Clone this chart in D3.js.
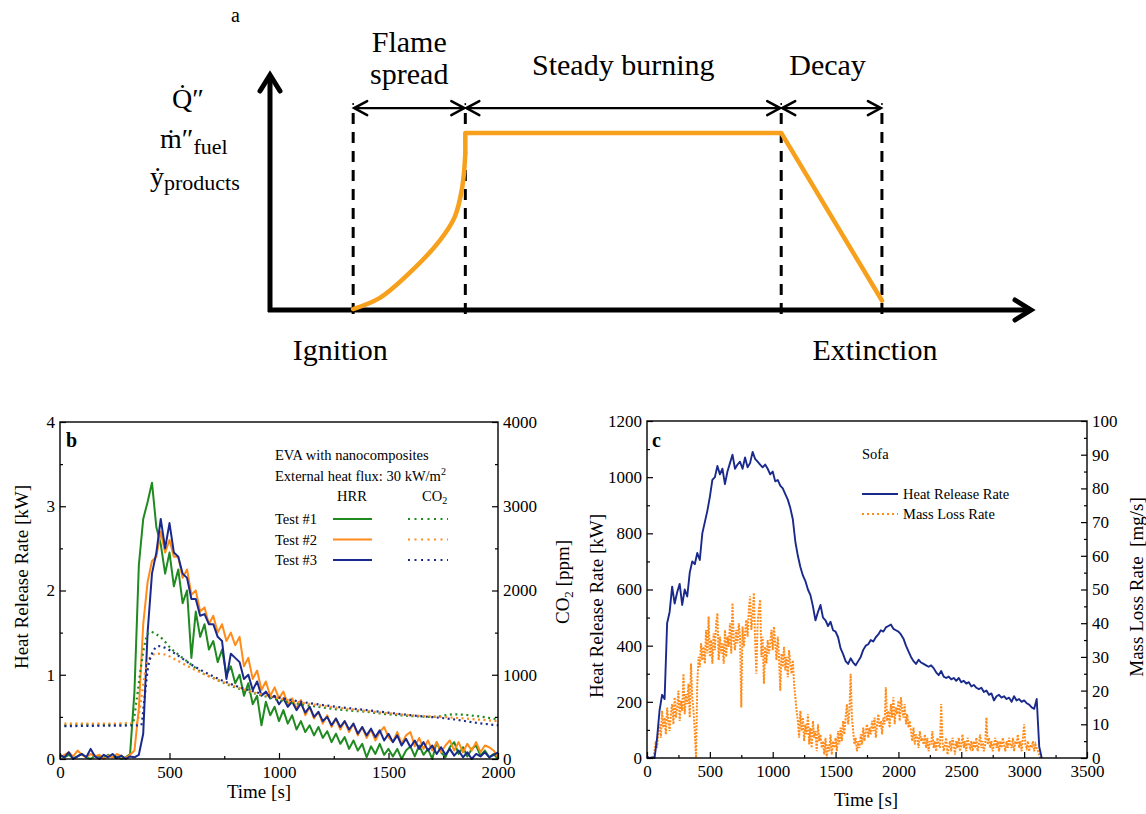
<!DOCTYPE html>
<html>
<head>
<meta charset="utf-8">
<title>Fire development stages</title>
<script src="https://cdn.jsdelivr.net/npm/d3@7"></script>
<style>
  body { margin: 0; background: #fff; }
  svg { display: block; font-family: "Liberation Serif", "Times New Roman", serif; }
  text { font-family: "Liberation Serif", "Times New Roman", serif; fill: #000; }
</style>
</head>
<body>
<svg id="chart" width="1146" height="814"></svg>
<script>
// ---------------- data ----------------
// panel a: idealised fire curve (arbitrary units, x 0-100, y 0-1)
const phaseX = [10.9, 25.6, 67.0, 80.2];
const growthX = [10.9, 14.4, 18.7, 22.3, 24.2, 25.2, 25.6];
const growthY = [0.004, 0.051, 0.169, 0.295, 0.392, 0.519, 0.662];
const plateauX = [25.6, 25.6, 67.0, 80.2];
const plateauY = [0.662, 0.747, 0.747, 0.04];

// panel b: cone calorimeter, EVA with nanocomposites (sampled every 20 s)
const stepB = 20;
const hrrTest1 = [0.04,0.02,0.05,0.01,0.03,0.06,0.02,0.00,0.04,0.03,0.01,0.05,0.02,0.03,0.00,0.02,0.06,
  0.8,2.3,2.85,3.05,3.28,2.75,2.55,2.2,2.45,2.05,
  2.25,1.85,2.0,1.2,1.75,1.45,1.6,1.3,1.4,1.15,
  1.3,1.0,1.1,0.9,1.0,0.75,0.9,0.65,0.75,0.4,
  0.68,0.52,0.62,0.45,0.58,0.42,0.52,0.35,0.45,0.32,
  0.4,0.28,0.38,0.25,0.33,0.2,0.3,0.18,0.26,0.12,
  0.22,0.1,0.18,0.02,0.15,0.06,0.18,0.05,0.12,0.03,
  0.12,0.0,0.1,0.15,0.03,0.16,0.05,0.12,0.0,0.2,
  0.08,0.02,0.14,0.2,0.06,0.14,0.03,0.12,0.16,0.04,
  0.1,0.02,0.06,0.0];
const hrrTest2 = [0.02,0.05,0.08,0.03,0.10,0.05,0.02,0.06,0.03,0.05,0.00,0.04,0.02,0.06,0.03,0.01,0.05,0.10,
  0.6,1.6,2.1,2.35,2.4,2.7,2.45,2.6,2.4,2.4,
  2.15,2.25,1.95,2.0,1.75,1.8,1.6,1.7,1.5,1.6,
  1.4,1.5,1.35,1.45,1.1,1.2,0.95,1.05,0.82,0.92,
  0.75,0.85,0.72,0.8,0.65,0.72,0.6,0.7,0.52,0.62,
  0.48,0.56,0.42,0.52,0.38,0.48,0.35,0.45,0.32,0.42,
  0.28,0.38,0.25,0.35,0.22,0.32,0.38,0.26,0.2,0.32,
  0.18,0.28,0.32,0.15,0.25,0.12,0.22,0.1,0.2,0.08,
  0.16,0.22,0.1,0.2,0.08,0.18,0.1,0.2,0.08,0.16,
  0.14,0.1,0.02];
const hrrTest3 = [0.05,0.02,0.08,0.00,0.03,0.06,0.02,0.12,0.03,0.00,0.05,0.02,0.06,0.01,0.04,0.00,0.03,0.02,0.05,
  0.3,1.5,2.2,2.45,2.85,2.5,2.8,2.45,2.4,2.2,
  2.15,1.9,1.9,1.7,1.72,1.6,1.6,1.45,1.4,0.95,
  1.25,1.2,1.15,0.95,1.0,0.82,0.92,0.75,0.8,0.72,
  0.75,0.65,0.72,0.62,0.68,0.58,0.66,0.55,0.62,0.5,
  0.56,0.45,0.5,0.4,0.48,0.38,0.45,0.35,0.42,0.3,
  0.38,0.28,0.36,0.26,0.34,0.22,0.3,0.2,0.28,0.16,
  0.24,0.14,0.22,0.12,0.2,0.1,0.16,0.06,0.14,0.05,
  0.12,0.04,0.1,0.02,0.08,0.0,0.06,0.03,0.08,0.02,
  0.05,0.08];
// CO2 [ppm] as [time, value]
const co2Test1 = [[20,400],[100,410],[200,405],[330,410],[350,700],[370,1100],[390,1400],[410,1510],[440,1480],[470,1420],[500,1330],[550,1220],[600,1120],[650,1020],[700,960],[750,900],[800,850],[900,770],[1000,700],[1100,650],[1200,610],[1300,580],[1400,560],[1500,530],[1600,510],[1700,500],[1800,530],[1900,510],[2000,470]];
const co2Test2 = [[20,420],[200,420],[350,430],[370,700],[390,1050],[410,1200],[440,1250],[480,1240],[520,1190],[600,1080],[700,960],[800,860],[900,780],[1000,720],[1100,670],[1200,630],[1400,570],[1600,520],[1800,490],[1900,470],[2000,450]];
const co2Test3 = [[20,390],[200,395],[370,400],[385,700],[400,1050],[420,1250],[450,1340],[480,1320],[520,1260],[600,1120],[700,980],[800,870],[900,790],[1000,730],[1100,680],[1200,640],[1400,580],[1600,520],[1800,470],[1900,430],[2000,400]];
const testNames = ["Test #1", "Test #2", "Test #3"];
const testColors = ["#1f8a1f", "#ff8c1a", "#1a2a8c"];

// panel c: sofa burn (HRR every 20 s, MLR every 10 s)
const stepC = 20;
const sofaHRR = [5,0,2,0,70,170,225,210,480,520,
  610,550,590,620,545,600,575,660,700,690,
  730,705,800,840,880,930,990,1000,1040,1010,
  1030,975,1020,1050,1080,1030,1045,1055,1030,1070,
  1035,1050,1090,1065,1055,1045,1035,1045,1030,1010,
  1020,985,990,970,960,940,920,890,850,770,
  720,680,650,630,600,580,540,490,520,545,
  500,490,470,485,455,450,430,390,370,345,
  335,355,340,330,345,360,385,400,405,420,
  415,430,440,455,450,465,470,475,460,455,
  450,440,425,400,380,360,345,335,350,340,
  335,330,325,330,320,305,295,310,290,285,
  290,280,285,275,285,270,275,265,270,255,
  260,250,245,250,235,240,225,230,205,220,
  225,215,220,210,215,200,220,205,210,200,
  205,195,190,180,175,210,40,0];
const stepMLR = 10;
const sofaMLR = [0,0,0,0,0,0,2,5,3,8,
  10,6,14,9,12,7,15,11,8,13,
  16,10,18,12,15,20,11,17,14,25,
  13,19,16,22,12,28,18,14,8,0,
  22,30,27,34,29,33,28,38,31,42,
  30,35,28,37,32,40,43,29,36,31,
  34,28,38,30,36,33,40,31,46,35,
  32,38,34,40,36,15,39,33,37,41,
  36,44,48,38,42,49,35,25,40,44,
  47,30,36,22,33,28,35,31,34,38,
  32,39,34,29,36,30,20,31,27,33,
  26,30,24,32,28,25,29,22,18,14,
  11,6,14,8,12,5,10,7,13,4,
  9,3,11,6,8,2,10,5,7,3,
  5,1,6,0,4,2,7,1,5,3,
  6,2,8,4,9,5,11,7,12,16,
  10,14,25,12,8,4,6,2,5,3,
  7,4,9,5,8,10,6,9,7,11,
  8,12,6,10,13,9,11,7,12,10,
  21,11,14,9,16,12,18,10,15,13,
  17,11,18,14,12,16,10,13,9,11,
  8,5,9,4,7,6,3,8,5,6,
  4,7,3,6,2,5,4,8,3,5,
  2,6,4,3,16,5,2,4,6,1,
  3,5,2,6,4,1,5,3,6,2,
  4,7,3,5,2,6,4,3,5,2,
  5,3,6,2,4,7,3,5,2,4,
  12,4,6,3,5,2,4,6,3,5,
  2,5,3,6,4,2,5,3,6,4,
  3,6,2,5,4,7,3,5,2,6,
  10,4,3,5,2,4,3,5,2,4,
  3,2,1,0];

// tick values
const ticksB = { x: [0, 500, 1000, 1500, 2000], xm: [250, 750, 1250, 1750],
  yl: [0, 1, 2, 3, 4], ylm: [0.5, 1.5, 2.5, 3.5],
  yr: [0, 1000, 2000, 3000, 4000], yrm: [500, 1500, 2500, 3500] };
const ticksC = { x: [0, 500, 1000, 1500, 2000, 2500, 3000, 3500], xm: [250, 750, 1250, 1750, 2250, 2750, 3250],
  yl: [0, 200, 400, 600, 800, 1000, 1200], ylm: [100, 300, 500, 700, 900, 1100],
  yr: [0, 10, 20, 30, 40, 50, 60, 70, 80, 90, 100], yrm: [5, 15, 25, 35, 45, 55, 65, 75, 85, 95] };

// ---------------- drawing ----------------
const SERIF = '"Liberation Serif", "Times New Roman", serif';
const svg = d3.select("#chart");
svg.append("rect").attr("width", 1146).attr("height", 814).attr("fill", "#fff");

function label(g, x, y, size, str) {
  return g.append("text").attr("x", x).attr("y", y)
    .style("font-family", SERIF).style("font-size", size + "px").text(str);
}

// ===== panel a =====
const xA = d3.scaleLinear().domain([0, 100]).range([270, 1033]);
const yA = d3.scaleLinear().domain([0, 1]).range([310, 73]);
const a = svg.append("g");

function chevron(g, x, y, dx, dy, len, spread, w) {
  const px = -dy, py = dx;
  g.append("path")
    .attr("d", `M${x - dx*len + px*spread},${y - dy*len + py*spread}L${x},${y}L${x - dx*len - px*spread},${y - dy*len - py*spread}`)
    .attr("fill", "none").attr("stroke", "#000").attr("stroke-width", w)
    .attr("stroke-linejoin", "miter").attr("stroke-linecap", "round");
}

const arrowY = yA(0.852), dashTop = yA(0.873);

a.selectAll("line.phase").data(phaseX).join("line")
  .attr("class", "phase")
  .attr("x1", d => xA(d)).attr("x2", d => xA(d))
  .attr("y1", dashTop + 10).attr("y2", yA(0) + 5)
  .attr("stroke", "#000").attr("stroke-width", 3).attr("stroke-dasharray", "11,8");
a.selectAll("line.pdot").data(phaseX).join("line")
  .attr("class", "pdot")
  .attr("x1", d => xA(d)).attr("x2", d => xA(d))
  .attr("y1", dashTop).attr("y2", dashTop + 2)
  .attr("stroke", "#000").attr("stroke-width", 1.5);

// span arrows between phases
for (let i = 0; i < 3; i++) {
  const x1 = xA(phaseX[i]) + 1, x2 = xA(phaseX[i + 1]) - 1;
  a.append("line").attr("x1", x1).attr("x2", x2).attr("y1", arrowY).attr("y2", arrowY)
    .attr("stroke", "#000").attr("stroke-width", 2.2);
  chevron(a, x1, arrowY, -1, 0, 13, 7, 2.5);
  chevron(a, x2, arrowY, 1, 0, 13, 7, 2.5);
}

// axes with arrows
a.append("line").attr("x1", xA(0)).attr("x2", xA(0)).attr("y1", yA(0) + 2).attr("y2", yA(1) + 3)
  .attr("stroke", "#000").attr("stroke-width", 5);
a.append("line").attr("x1", xA(0) - 2).attr("x2", xA(100) - 3).attr("y1", yA(0)).attr("y2", yA(0))
  .attr("stroke", "#000").attr("stroke-width", 5);
chevron(a, xA(0), yA(1) + 2, 0, -1, 16, 10, 5);
chevron(a, xA(100) - 2, yA(0), 1, 0, 16, 10, 5);

// fire curve
const growthLine = d3.line().x(d => xA(d[0])).y(d => yA(d[1])).curve(d3.curveCatmullRom);
const plateauLine = d3.line().x(d => xA(d[0])).y(d => yA(d[1]));
a.append("path").datum(growthX.map((v, i) => [v, growthY[i]]))
  .attr("d", growthLine).attr("fill", "none").attr("stroke", "#f7a01c")
  .attr("stroke-width", 4.5).attr("stroke-linecap", "round");
a.append("path").datum(plateauX.map((v, i) => [v, plateauY[i]]))
  .attr("d", plateauLine).attr("fill", "none").attr("stroke", "#f7a01c")
  .attr("stroke-width", 4.5).attr("stroke-linejoin", "round").attr("stroke-linecap", "round");

// labels
label(a, 231, 22, 20, "a");
const midA = i => (xA(phaseX[i]) + xA(phaseX[i + 1])) / 2;
label(a, midA(0), 52, 30, "Flame").attr("text-anchor", "middle");
label(a, midA(0), 84, 30, "spread").attr("text-anchor", "middle");
label(a, midA(1), 75, 30, "Steady burning").attr("text-anchor", "middle");
label(a, midA(2) - 4, 75, 30, "Decay").attr("text-anchor", "middle");
label(a, xA(phaseX[0]) - 13, 360, 30, "Ignition").attr("text-anchor", "middle");
label(a, xA(phaseX[3]) - 7, 360, 30, "Extinction").attr("text-anchor", "middle");

label(a, 172, 108, 28, "Q\u0307\u2033");
const mLab = label(a, 160, 148, 28, "");
mLab.append("tspan").text("\u1E41\u2033");
mLab.append("tspan").style("font-size", "22px").attr("dy", 6).text("fuel");
const yLab = label(a, 150, 186, 28, "");
yLab.append("tspan").text("\u1E8F");
yLab.append("tspan").style("font-size", "22px").attr("dy", 4).text("products");

// ===== shared frame for b / c =====
function styleAxis(sel) {
  sel.select(".domain").remove();
  sel.attr("font-family", null).attr("font-size", null);
  sel.selectAll("text").style("font-family", SERIF).style("font-size", "17px").attr("fill", "#000");
  sel.selectAll("line").attr("stroke", "#000").attr("stroke-width", 1.2);
}
function drawFrame(g, x, yl, yr, t) {
  const [x0, x1] = x.range(), [yb, yt] = yl.range();
  const fmt = d3.format("d");
  g.append("g").attr("transform", `translate(0,${yb})`)
    .call(d3.axisBottom(x).tickValues(t.x).tickFormat(fmt).tickSize(-6).tickPadding(7)).call(styleAxis);
  g.append("g").attr("transform", `translate(0,${yb})`)
    .call(d3.axisBottom(x).tickValues(t.xm).tickSize(-3).tickFormat("")).call(styleAxis);
  g.append("g").attr("transform", `translate(${x0},0)`)
    .call(d3.axisLeft(yl).tickValues(t.yl).tickFormat(fmt).tickSize(-6).tickPadding(5)).call(styleAxis);
  g.append("g").attr("transform", `translate(${x0},0)`)
    .call(d3.axisLeft(yl).tickValues(t.ylm).tickSize(-3).tickFormat("")).call(styleAxis);
  g.append("g").attr("transform", `translate(${x1},0)`)
    .call(d3.axisRight(yr).tickValues(t.yr).tickFormat(fmt).tickSize(-6).tickPadding(5)).call(styleAxis);
  g.append("g").attr("transform", `translate(${x1},0)`)
    .call(d3.axisRight(yr).tickValues(t.yrm).tickSize(-3).tickFormat("")).call(styleAxis);
  g.append("rect").attr("x", x0).attr("y", yt).attr("width", x1 - x0).attr("height", yb - yt)
    .attr("fill", "none").attr("stroke", "#000").attr("stroke-width", 1.4);
}

// ===== panel b =====
const xB = d3.scaleLinear().domain([0, 2000]).range([60, 498]);
const yB = d3.scaleLinear().domain([0, 4]).range([759, 422]);
const yB2 = d3.scaleLinear().domain([0, 4000]).range([759, 422]);
const b = svg.append("g");

const lineB = d3.line().x(d => xB(d[0])).y(d => yB(d[1]));
const lineB2 = d3.line().x(d => xB(d[0])).y(d => yB2(d[1])).curve(d3.curveMonotoneX);

[hrrTest1, hrrTest2, hrrTest3].forEach((s, k) => {
  b.append("path").datum(s.map((v, i) => [i * stepB, v]))
    .attr("d", lineB).attr("fill", "none").attr("stroke", testColors[k])
    .attr("stroke-width", 2).attr("stroke-linejoin", "round");
});
[co2Test1, co2Test2, co2Test3].forEach((s, k) => {
  b.append("path").datum(s)
    .attr("d", lineB2).attr("fill", "none").attr("stroke", testColors[k])
    .attr("stroke-width", 2.2).attr("stroke-dasharray", "2,3.5");
});
drawFrame(b, xB, yB, yB2, ticksB);

label(b, 66, 447, 20, "b").style("font-weight", "bold");
label(b, 0, 0, 19, "Heat Release Rate [kW]")
  .attr("transform", "translate(28,577) rotate(-90)").attr("text-anchor", "middle");
label(b, 259, 798, 19, "Time [s]").attr("text-anchor", "middle");
const co2Title = label(b, 0, 0, 19, "")
  .attr("transform", "translate(569,582) rotate(-90)").attr("text-anchor", "middle");
co2Title.append("tspan").text("CO");
co2Title.append("tspan").style("font-size", "13px").attr("dy", 4).text("2");
co2Title.append("tspan").attr("dy", -4).text(" [ppm]");

// legend b
const lgB = b.append("g");
label(lgB, 275, 460, 14.5, "EVA with nanocomposites");
const flux = label(lgB, 275, 481, 14.5, "");
flux.append("tspan").text("External heat flux: 30 kW/m");
flux.append("tspan").style("font-size", "10px").attr("dy", -6).text("2");
label(lgB, 352, 501, 14.5, "HRR").attr("text-anchor", "middle");
const co2Head = label(lgB, 422, 501, 14.5, "");
co2Head.append("tspan").text("CO");
co2Head.append("tspan").style("font-size", "10px").attr("dy", 3).text("2");
testNames.forEach((n, k) => {
  const y = 519 + k * 20.5;
  label(lgB, 275, y + 5, 14.5, n);
  lgB.append("line").attr("x1", 333).attr("x2", 372).attr("y1", y).attr("y2", y)
    .attr("stroke", testColors[k]).attr("stroke-width", 2);
  lgB.append("line").attr("x1", 408).attr("x2", 448).attr("y1", y).attr("y2", y)
    .attr("stroke", testColors[k]).attr("stroke-width", 2.2).attr("stroke-dasharray", "2,4.5");
});

// ===== panel c =====
const xC = d3.scaleLinear().domain([0, 3500]).range([647, 1087]);
const yC = d3.scaleLinear().domain([0, 1200]).range([758, 421]);
const yC2 = d3.scaleLinear().domain([0, 100]).range([758, 421]);
const c = svg.append("g");

c.append("path").datum(sofaMLR.map((v, i) => [i * stepMLR, v]))
  .attr("d", d3.line().x(d => xC(d[0])).y(d => yC2(d[1])))
  .attr("fill", "none").attr("stroke", "#ff8c1a").attr("stroke-width", 2)
  .attr("stroke-dasharray", "2,1.3");
c.append("path").datum(sofaHRR.map((v, i) => [i * stepC, v]))
  .attr("d", d3.line().x(d => xC(d[0])).y(d => yC(d[1])))
  .attr("fill", "none").attr("stroke", "#1a2a8c").attr("stroke-width", 1.9)
  .attr("stroke-linejoin", "round");
drawFrame(c, xC, yC, yC2, ticksC);

label(c, 652, 447, 20, "c").style("font-weight", "bold");
label(c, 0, 0, 19, "Heat Release Rate [kW]")
  .attr("transform", "translate(603,606) rotate(-90)").attr("text-anchor", "middle");
label(c, 0, 0, 19, "Mass Loss Rate\u00a0 [mg/s]")
  .attr("transform", "translate(1143,587) rotate(-90)").attr("text-anchor", "middle");
label(c, 866, 806, 19, "Time [s]").attr("text-anchor", "middle");

// legend c
label(c, 862, 459, 14.5, "Sofa");
c.append("line").attr("x1", 862).attr("x2", 898).attr("y1", 494).attr("y2", 494)
  .attr("stroke", "#1a2a8c").attr("stroke-width", 2);
label(c, 903, 499, 14.5, "Heat Release Rate");
c.append("line").attr("x1", 862).attr("x2", 898).attr("y1", 514).attr("y2", 514)
  .attr("stroke", "#ff8c1a").attr("stroke-width", 1.8).attr("stroke-dasharray", "2,3");
label(c, 903, 519, 14.5, "Mass Loss Rate");
</script>
</body>
</html>
